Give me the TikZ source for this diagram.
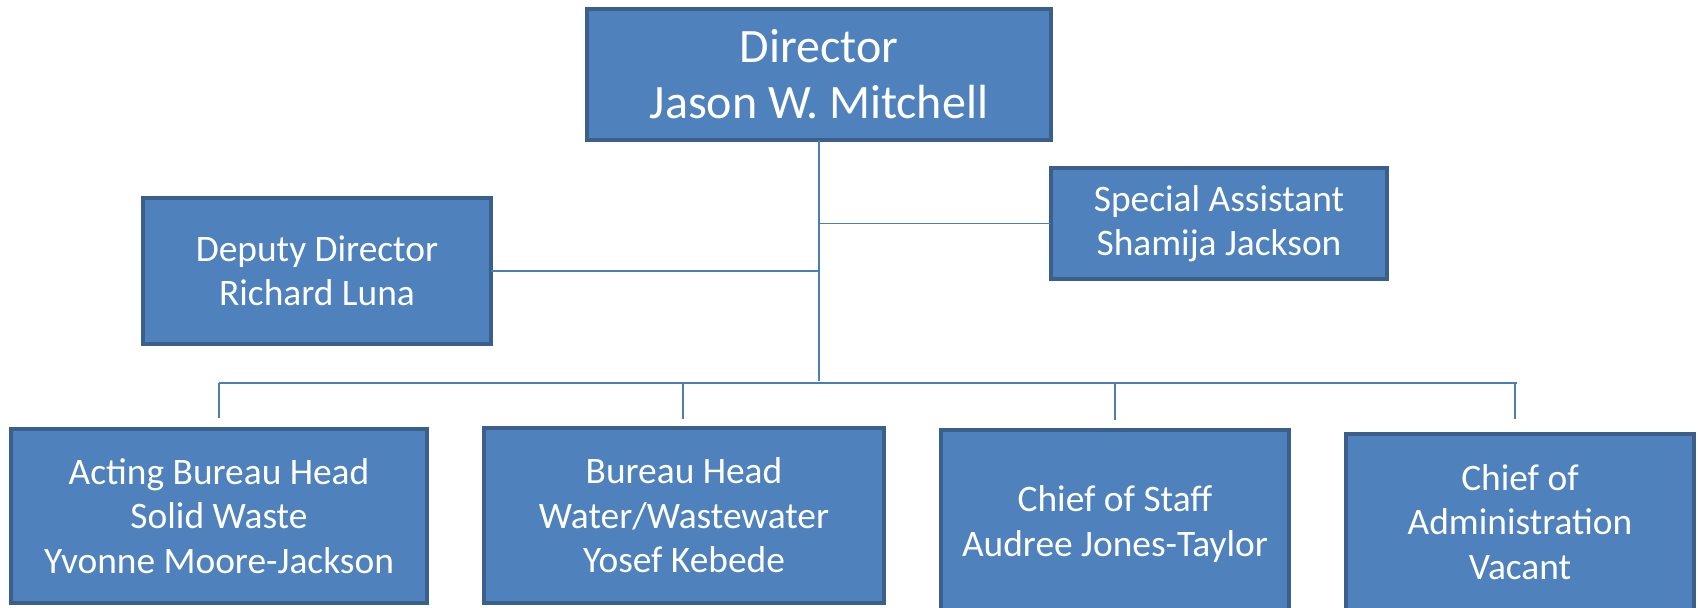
\documentclass[tikz,border=0pt]{standalone}
\usepackage{fontspec}
\setmainfont{Carlito}
\definecolor{boxfill}{HTML}{4F81BD}
\definecolor{boxline}{HTML}{3A5F8B}
\definecolor{conn}{HTML}{4A7EBB}
\begin{document}
\begin{tikzpicture}[x=0.5pt,y=-0.5pt,
  orgbox/.style={draw=boxline, fill=boxfill, line width=2pt, text=white, align=center, inner sep=0pt, outer sep=0pt},
  bigtxt/.style={font=\fontsize{24pt}{28pt}\selectfont},
  midtxt/.style={font=\fontsize{18.7pt}{22pt}\selectfont},
  lowtxt/.style={font=\fontsize{18.7pt}{22.3pt}\selectfont},
  link/.style={draw=conn, line width=0.8pt}]
\useasboundingbox (0,0) rectangle (1698,607);
\clip (0,0) rectangle (1698,607);
% boxes
\node[orgbox, bigtxt, minimum width=232pt, minimum height=65.5pt] (dir) at (819,74.5) {Director\\Jason W. Mitchell};
\node[orgbox, midtxt, minimum width=174pt, minimum height=73pt] (dep) at (317,271) {Deputy Director\\Richard Luna};
\node[orgbox, midtxt, minimum width=168pt, minimum height=55.5pt] (spa) at (1219,223.5) {Special Assistant\\Shamija Jackson};
\node[orgbox, lowtxt, minimum width=208pt, minimum height=87pt] (sw) at (219,516) {Acting Bureau Head\\Solid Waste\\Yvonne Moore-Jackson};
\node[orgbox, lowtxt, minimum width=200pt, minimum height=87.5pt] (ww) at (684,515.5) {Bureau Head\\Water/Wastewater\\Yosef Kebede};
\node[orgbox, lowtxt, minimum width=174pt, minimum height=94pt] (cos) at (1115,524) {Chief of Staff\\Audree Jones-Taylor};
\node[orgbox, lowtxt, minimum width=174pt, minimum height=88pt] (coa) at (1520,522) {Chief of\\Administration\\Vacant};
% connector points
\coordinate (trunk) at (819,381);
\coordinate (barL) at (219,383);
\coordinate (barR) at (1517,383);
\coordinate (t1) at (219,418);
\coordinate (t2) at (683,419);
\coordinate (t3) at (1115,420);
\coordinate (t4) at (1515,419);
% connectors
\draw[link] (dir.south) -- (trunk);
\draw[link] (dep.east) -- (dep.east -| dir.south);
\draw[link] (spa.west) -- (spa.west -| dir.south);
\draw[link] (barL) -- (barR);
\draw[link] (barL) -- (t1);
\draw[link] (t2 |- barL) -- (t2);
\draw[link] (t3 |- barL) -- (t3);
\draw[link] (t4 |- barL) -- (t4);
\end{tikzpicture}
\end{document}
